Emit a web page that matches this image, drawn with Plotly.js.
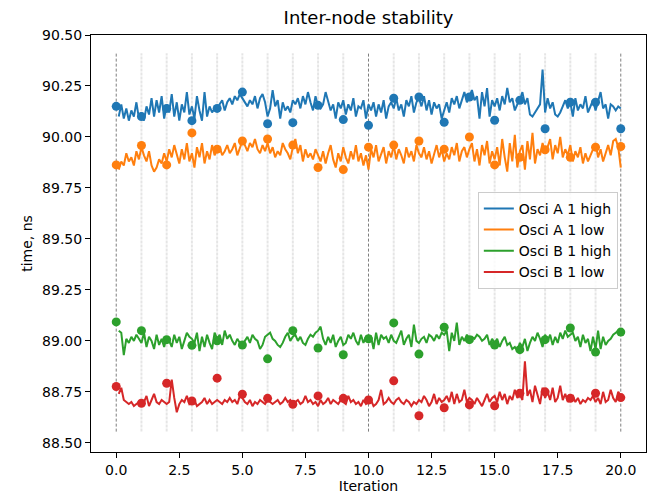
<!DOCTYPE html>
<html>
<head>
<meta charset="utf-8">
<script src="https://cdn.plot.ly/plotly-3.0.1.min.js"></script>
<style>html,body{margin:0;padding:0;background:#fff;}#chart{width:652px;height:496px;}</style>
</head>
<body>
<div id="chart"></div>
<script>
// Series names
const seriesNames = ["Osci A 1 high", "Osci A 1 low", "Osci B 1 high", "Osci B 1 low"];
const seriesColors = ["#1f77b4", "#ff7f0e", "#2ca02c", "#d62728"];

// Iterations (marker positions)
const iterations = [0,1,2,3,4,5,6,7,8,9,10,11,12,13,14,15,16,17,18,19,20];

// Per-iteration mean markers
const markA_high = [90.15,90.10,90.14,90.08,90.14,90.22,90.065,90.07,90.155,90.085,90.057,90.19,90.196,90.072,90.196,90.082,90.18,90.04,90.17,90.17,90.04];
const markA_low  = [89.863,89.958,89.863,90.02,89.94,89.98,89.99,89.96,89.85,89.84,89.95,89.96,89.98,89.94,90.0,89.863,89.90,89.937,89.90,89.95,89.953];
const markB_high = [89.093,89.05,89.006,88.978,89.0,88.98,88.912,89.05,88.965,88.932,89.01,89.088,88.935,89.067,89.006,88.98,88.957,89.006,89.063,88.945,89.043];
const markB_low  = [88.776,88.694,88.792,88.705,88.817,88.738,88.718,88.689,88.73,88.718,88.71,88.804,88.633,88.672,88.686,88.682,88.743,88.75,88.718,88.743,88.722];

// Sub-iteration samples (10 per iteration, from 0.1 to 20.0)
const lineA_high = [
90.10,90.16,90.09,90.14,90.08,90.13,90.10,90.17,90.09,90.12,
90.08,90.15,90.11,90.19,90.10,90.18,90.12,90.20,90.09,90.16,
90.12,90.21,90.10,90.17,90.08,90.16,90.12,90.22,90.11,90.15,
90.09,90.20,90.13,90.08,90.22,90.10,90.15,90.12,90.14,90.13,
90.16,90.18,90.13,90.17,90.19,90.16,90.20,90.18,90.21,90.19,
90.17,90.15,90.18,90.16,90.20,90.14,90.19,90.21,90.17,90.10,
90.14,90.23,90.15,90.18,90.09,90.17,90.13,90.15,90.12,90.18,
90.16,90.19,90.14,90.20,90.16,90.22,90.17,90.13,90.20,90.15,
90.14,90.16,90.22,90.17,90.13,90.16,90.09,90.17,90.14,90.18,
90.11,90.16,90.13,90.19,90.10,90.15,90.14,90.18,90.09,90.16,
90.13,90.17,90.10,90.16,90.12,90.18,90.09,90.15,90.17,90.14,
90.19,90.13,90.16,90.10,90.18,90.15,90.20,90.12,90.17,90.19,
90.15,90.20,90.13,90.18,90.11,90.17,90.14,90.16,90.09,90.13,
90.17,90.12,90.19,90.16,90.20,90.14,90.18,90.22,90.17,90.20,
90.23,90.18,90.20,90.09,90.22,90.15,90.24,90.10,90.18,90.15,
90.19,90.13,90.20,90.16,90.24,90.17,90.19,90.13,90.16,90.18,
90.22,90.16,90.19,90.11,90.10,90.12,90.14,90.16,90.33,90.12,
90.19,90.14,90.17,90.11,90.10,90.12,90.15,90.18,90.14,90.17,
90.10,90.19,90.13,90.16,90.14,90.20,90.12,90.15,90.18,90.13,
90.17,90.22,90.14,90.16,90.09,90.16,90.15,90.13,90.15,90.14];

const lineA_low = [
89.84,89.88,89.86,89.92,89.88,89.90,89.86,89.93,89.89,89.95,
89.91,89.88,89.93,89.86,89.83,89.85,89.89,89.87,89.92,89.88,
89.94,89.90,89.96,89.91,89.87,89.94,89.89,89.97,89.88,89.92,
89.85,89.95,89.90,89.97,89.87,89.93,89.89,89.96,89.91,89.94,
89.95,89.91,89.93,89.96,89.92,89.94,89.97,89.91,89.95,89.98,
89.96,89.93,89.97,89.95,89.99,89.94,89.92,89.96,89.93,89.97,
89.92,89.95,89.90,89.93,89.91,89.97,89.94,89.92,89.89,89.95,
89.99,89.92,89.96,89.88,89.94,89.90,89.92,89.89,89.94,89.91,
89.88,89.93,89.87,89.92,89.96,89.89,89.85,89.92,89.88,89.95,
89.90,89.87,89.93,89.89,89.96,89.88,89.92,89.86,89.91,89.84,
89.94,89.90,89.96,89.88,89.92,89.95,89.87,89.93,89.90,89.96,
89.89,89.94,89.91,89.87,89.95,89.90,89.93,89.88,89.96,89.92,
89.90,89.95,89.89,89.93,89.87,89.91,89.96,89.90,89.94,89.88,
89.92,89.89,89.95,89.91,89.97,89.88,89.93,89.95,89.90,89.94,
89.97,89.88,89.94,89.86,89.96,89.91,89.98,89.87,89.93,89.89,
89.95,89.86,89.99,89.90,89.83,89.97,89.88,90.01,89.85,89.93,
89.96,89.84,89.98,89.89,90.02,89.87,89.94,89.91,89.97,89.92,
89.95,89.99,89.89,89.96,89.92,90.00,89.90,89.94,89.91,89.96,
89.88,89.93,89.90,89.95,89.87,89.92,89.88,89.91,89.94,89.97,
89.90,89.94,89.88,89.92,89.96,89.91,89.98,89.99,89.95,89.85];

const lineB_high = [
89.05,89.04,88.93,89.01,88.99,89.02,89.00,89.03,89.01,88.99,
89.04,88.97,89.02,89.00,88.96,89.03,88.98,89.01,88.97,89.02,
89.00,88.97,89.03,88.99,89.02,88.96,89.00,89.04,89.02,89.01,
88.99,89.04,88.95,89.02,88.97,89.03,88.99,88.96,89.04,89.01,
89.03,88.98,89.05,89.01,89.03,89.00,88.98,89.01,88.99,88.98,
89.00,89.02,88.99,89.03,89.01,89.00,88.96,88.98,89.02,89.03,
89.04,89.01,89.00,88.98,88.97,88.99,89.02,89.04,89.00,89.02,
89.03,89.00,89.02,88.99,88.98,89.01,89.03,89.02,89.04,89.05,
89.07,89.01,88.98,89.02,88.99,89.03,88.97,89.00,89.02,88.98,
88.99,89.03,89.01,89.04,89.00,88.98,89.03,88.99,89.02,89.01,
89.02,88.96,89.04,88.98,89.03,89.01,89.02,88.99,89.03,89.00,
88.99,89.02,89.05,88.98,89.01,89.03,88.97,89.08,89.00,88.99,
89.01,89.02,88.99,89.03,89.02,89.00,89.03,89.01,89.04,89.03,
89.05,88.95,89.04,89.00,89.09,88.98,89.02,89.00,89.03,89.01,
89.02,89.01,89.03,89.02,89.00,89.01,89.03,88.98,89.01,88.99,
89.01,88.97,89.00,89.02,88.98,88.99,88.96,88.97,88.95,88.99,
88.97,89.01,88.95,88.99,89.02,89.00,89.04,89.01,88.97,89.03,
89.00,89.03,88.98,89.02,88.99,89.04,89.01,89.05,89.02,89.03,
89.04,89.00,89.02,88.97,89.03,88.99,89.01,88.95,89.02,88.96,
89.05,88.96,89.02,88.98,89.00,89.01,89.03,89.04,89.05,89.04];

const lineB_low = [
88.74,88.77,88.71,88.70,88.69,88.70,88.68,88.69,88.70,88.69,
88.70,88.73,88.68,88.71,88.74,88.70,88.69,88.71,88.70,88.69,
88.70,88.81,88.72,88.65,88.69,88.71,88.70,88.73,88.69,88.70,
88.71,88.68,88.69,88.70,88.72,88.69,88.71,88.69,88.70,88.71,
88.70,88.69,88.71,88.70,88.72,88.70,88.71,88.69,88.73,88.72,
88.70,88.69,88.71,88.68,88.70,88.69,88.71,88.70,88.69,88.71,
88.70,88.69,88.70,88.71,88.69,88.70,88.72,88.70,88.71,88.69,
88.70,88.71,88.69,88.70,88.73,88.70,88.71,88.69,88.70,88.68,
88.71,88.69,88.70,88.72,88.69,88.71,88.70,88.69,88.71,88.70,
88.69,88.73,88.70,88.71,88.69,88.70,88.68,88.71,88.69,88.70,
88.71,88.68,88.69,88.71,88.76,88.69,88.70,88.72,88.70,88.69,
88.71,88.72,88.70,88.69,88.71,88.70,88.68,88.70,88.69,88.71,
88.70,88.73,88.71,88.68,88.70,88.74,88.69,88.72,88.70,88.71,
88.73,88.70,88.75,88.69,88.74,88.70,88.71,88.76,88.70,88.72,
88.71,88.69,88.72,88.70,88.68,88.71,88.74,88.70,88.72,88.73,
88.70,88.75,88.71,88.74,88.69,88.73,88.71,88.76,88.72,88.74,
88.71,88.90,88.73,88.76,88.70,88.78,88.74,88.69,88.77,88.72,
88.75,88.71,88.77,88.70,88.72,88.78,88.71,88.74,88.70,88.72,
88.73,88.70,88.72,88.69,88.71,88.70,88.72,88.71,88.73,88.70,
88.72,88.69,88.75,88.70,88.71,88.76,88.72,88.70,88.75,88.73];

// Reference vertical lines
const guideIterations = iterations;
const majorGuides = [0, 10, 20];
const guideSpan = [88.555, 90.41];

// Tick values
const yTicks = [88.50,88.75,89.00,89.25,89.50,89.75,90.00,90.25,90.50];
const xTicks = [0,2.5,5,7.5,10,12.5,15,17.5,20];

const lines = [lineA_high, lineA_low, lineB_high, lineB_low];
const marks = [markA_high, markA_low, markB_high, markB_low];

const traces = [];
guideIterations.forEach(g => {
  const major = majorGuides.includes(g);
  traces.push({
    x: [g, g], y: guideSpan, mode: 'lines', showlegend: false, hoverinfo: 'skip',
    line: major ? {color: '#7f7f7f', width: 1, dash: '3px,2px'} : {color: 'rgba(0,0,0,0.10)', width: 2, dash: '3px,1px'}
  });
});
lines.forEach((ys, i) => {
  traces.push({
    x: ys.map((_, k) => (k + 1) / 10),
    y: ys, mode: 'lines', name: seriesNames[i],
    line: {color: seriesColors[i], width: 2}
  });
});
marks.forEach((ys, i) => {
  traces.push({
    x: iterations, y: ys, mode: 'markers', showlegend: false,
    marker: {color: seriesColors[i], size: 9}
  });
});

const font = {family: 'DejaVu Sans', color: '#000', size: 14};
const layout = {
  width: 652, height: 496,
  margin: {l: 91, r: 6, t: 35, b: 44, pad: 0},
  paper_bgcolor: '#fff', plot_bgcolor: '#fff',
  font: font,
  title: {text: 'Inter-node stability', font: {family: 'DejaVu Sans', size: 18, color: '#000'}, x: 0.5, xref: 'paper', xanchor: 'center', y: 1 - 18/496, yref: 'container', yanchor: 'middle'},
  xaxis: {
    range: [-1, 21], tickvals: xTicks, ticktext: xTicks.map(v => v.toFixed(1)),
    showgrid: false, zeroline: false, showline: true, mirror: true, linecolor: '#000', linewidth: 1,
    ticks: 'outside', ticklen: 5, tickcolor: '#000', tickfont: font,
    title: {text: 'Iteration', font: font, standoff: 3}
  },
  yaxis: {
    range: [88.455, 90.5], tickvals: yTicks, ticktext: yTicks.map(v => v.toFixed(2)),
    showgrid: false, zeroline: false, showline: true, mirror: true, linecolor: '#000', linewidth: 1,
    ticks: 'outside', ticklen: 5, tickcolor: '#000', tickfont: font,
    title: {text: 'time, ns', font: font, standoff: 6}
  },
  legend: {
    x: 0.697, y: 0.624, xanchor: 'left', yanchor: 'top',
    bgcolor: 'rgba(255,255,255,0.8)', bordercolor: '#cccccc', borderwidth: 1,
    font: font, tracegroupgap: 0
  },
  showlegend: true
};
Plotly.newPlot('chart', traces, layout, {displayModeBar: false, staticPlot: true});
</script>
</body>
</html>
